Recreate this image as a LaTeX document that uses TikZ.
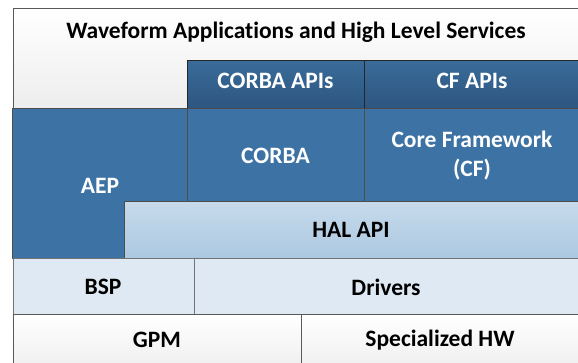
\documentclass[tikz,border=0pt]{standalone}
\usepackage{fontspec}
\setmainfont[Ligatures=NoCommon]{Carlito}
\begin{document}
\begin{tikzpicture}[x=1pt,y=-1pt,
  layer/.style={draw=#1, line width=0.9pt, inner sep=0pt, anchor=north west},
  lightbox/.style={layer=black!65, top color=white, bottom color=black!7},
  darkbox/.style={layer=black!85, top color=blue1top, bottom color=blue1bot},
  midbox/.style={layer=black!70, top color=blue2, middle color=blue2mid, bottom color=blue2},
  halbox/.style={layer=black!70, top color=halTop, bottom color=halBot},
  palebox/.style={layer=black!55, top color=paleTop, middle color=paleMid, bottom color=paleTop},
  label/.style={font=\fontsize{23.5}{29}\selectfont\bfseries, align=center, inner sep=0pt},
  wlabel/.style={label, text=white}
]
\definecolor{blue1top}{HTML}{3A6B99}
\definecolor{blue1bot}{HTML}{2C5680}
\definecolor{blue2}{HTML}{3D72A4}
\definecolor{blue2mid}{HTML}{35658F}
\definecolor{halTop}{HTML}{C7DAEB}
\definecolor{halBot}{HTML}{ABC8E1}
\definecolor{paleTop}{HTML}{DEE9F3}
\definecolor{paleMid}{HTML}{C9DCEC}

\useasboundingbox (0,0) rectangle (578,362);
\clip (0,0) rectangle (578,362);
\fill[white] (0,0) rectangle (578,362);

% application layer
\node[lightbox, minimum width=575pt, minimum height=100pt] (apps) at (12.5,8) {};
\node[label] (appstext) at (296,32) {Waveform Applications and High Level Services};

% API layer
\node[darkbox, minimum width=177pt, minimum height=48pt] (corbaapi) at (187,60) {};
\node[darkbox, minimum width=222pt, minimum height=48pt] (cfapi) at (364,60) {};
\node[wlabel] (corbaapitext) at (275.5,80.5) {CORBA APIs};
\node[wlabel] (cfapitext) at (472,80.5) {CF APIs};

% AEP (L-shaped)
\path[draw=black!70, line width=0.9pt, top color=blue2, middle color=blue2mid, bottom color=blue2]
  (12.5,108) -- (187,108) -- (187,201) -- (124,201) -- (124,258) -- (12.5,258) -- cycle;
\node[wlabel] (aep) at (100,186) {AEP};

% middleware layer
\node[midbox, minimum width=177pt, minimum height=93pt] (corba) at (187,108) {};
\node[midbox, minimum width=222pt, minimum height=93pt] (cf) at (364,108) {};
\node[wlabel] (corbatext) at (275.5,155.5) {CORBA};
\node[wlabel] (cftext) at (472,156) {Core Framework\\(CF)};

% HAL
\node[halbox, minimum width=462pt, minimum height=57pt] (hal) at (124,201) {};
\node[label] (haltext) at (351,230) {HAL API};

% BSP and drivers
\node[palebox, minimum width=181.5pt, minimum height=56pt] (bsp) at (12.5,258) {};
\node[palebox, minimum width=392pt, minimum height=56pt] (drivers) at (194,258) {};
\node[label] (bsptext) at (103,287) {BSP};
\node[label] (driverstext) at (386,287) {Drivers};

% hardware
\node[lightbox, minimum width=288.5pt, minimum height=60pt] (gpm) at (12.5,314) {};
\node[lightbox, minimum width=285pt, minimum height=60pt] (shw) at (301,314) {};
\node[label] (gpmtext) at (157,340) {GPM};
\node[label] (shwtext) at (440,340) {Specialized HW};
\end{tikzpicture}
\end{document}
